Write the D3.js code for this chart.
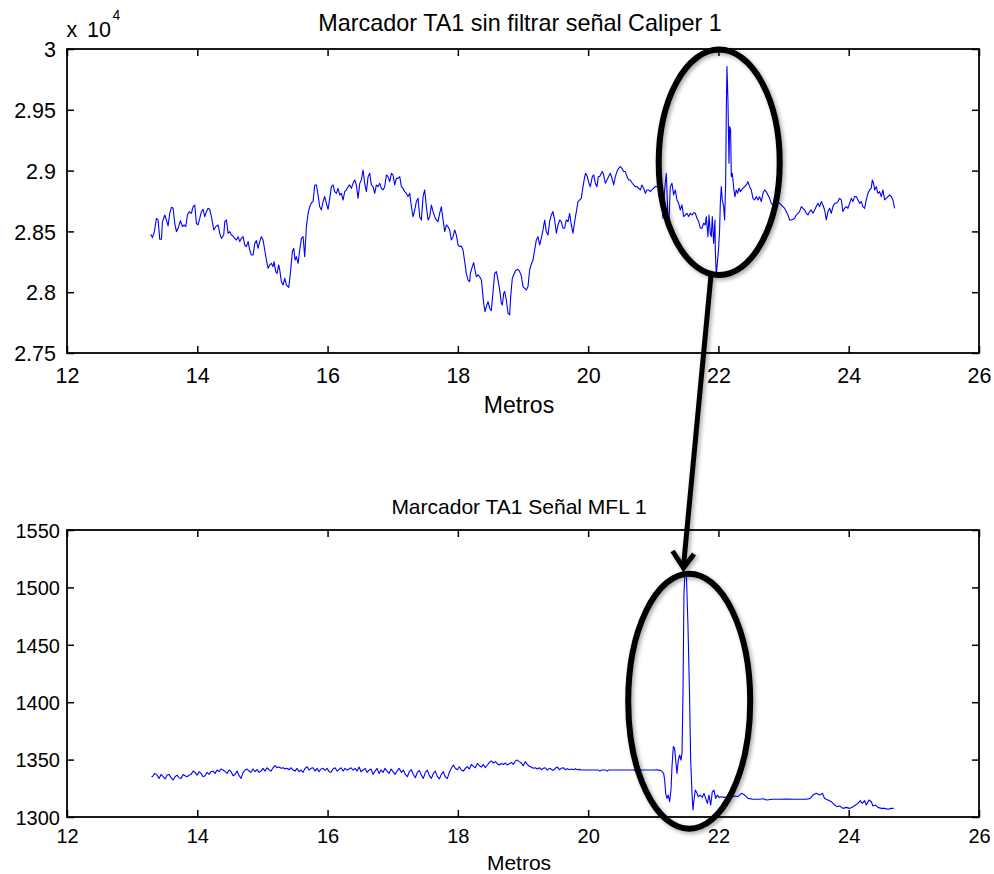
<!DOCTYPE html>
<html><head><meta charset="utf-8">
<script src="https://cdn.jsdelivr.net/npm/d3@7"></script>
<style>
body{margin:0;background:#fff}
svg{display:block}
text{font-family:"Liberation Sans",Arial,Helvetica,sans-serif;fill:#000}
</style>
</head><body>
<svg id="c" width="994" height="874"></svg>
<script>
// ---------- data ----------
const xTicks = [12,14,16,18,20,22,24,26];
const caliperTicks = [27500,28000,28500,29000,29500,30000];
const mflTicks = [1300,1350,1400,1450,1500,1550];
const titles = ["Marcador TA1 sin filtrar señal Caliper 1","Marcador TA1 Señal MFL 1"];
const xLabel = "Metros";
const exponentLabel = ["x","10","4"];

// Caliper 1 signal [metros, value]
const caliper = [
[13.286,28476],[13.311,28449],[13.342,28498],[13.373,28608],[13.398,28594],[13.424,28435],[13.450,28435],[13.465,28580],[13.501,28635],[13.526,28594],[13.552,28545],[13.577,28649],[13.603,28698],[13.629,28690],[13.654,28566],[13.680,28498],[13.705,28525],[13.741,28588],[13.772,28539],[13.797,28553],[13.823,28539],[13.849,28635],[13.874,28662],[13.910,28649],[13.936,28703],[13.961,28717],[13.987,28566],[14.012,28553],[14.038,28608],[14.063,28662],[14.089,28682],[14.115,28621],[14.140,28662],[14.166,28690],[14.191,28682],[14.217,28621],[14.253,28512],[14.283,28539],[14.319,28553],[14.345,28484],[14.370,28443],[14.406,28470],[14.422,28580],[14.447,28594],[14.473,28484],[14.498,28498],[14.524,28470],[14.549,28462],[14.575,28443],[14.601,28429],[14.626,28457],[14.652,28416],[14.677,28443],[14.703,28457],[14.729,28388],[14.754,28375],[14.780,28416],[14.805,28347],[14.831,28306],[14.857,28306],[14.882,28402],[14.908,28424],[14.933,28361],[14.959,28416],[14.984,28457],[15.010,28429],[15.036,28347],[15.061,28265],[15.087,28196],[15.112,28224],[15.138,28237],[15.163,28210],[15.179,28251],[15.204,28169],[15.225,28155],[15.250,28224],[15.266,28183],[15.291,28087],[15.317,28059],[15.343,28114],[15.368,28059],[15.404,28040],[15.429,28155],[15.460,28334],[15.481,28361],[15.501,28265],[15.521,28292],[15.547,28237],[15.573,28347],[15.598,28443],[15.624,28457],[15.649,28292],[15.675,28539],[15.701,28649],[15.726,28703],[15.752,28736],[15.777,28745],[15.803,28882],[15.829,28882],[15.854,28799],[15.880,28703],[15.905,28676],[15.931,28745],[15.956,28786],[15.982,28731],[16.008,28682],[16.033,28772],[16.059,28868],[16.084,28882],[16.110,28827],[16.135,28813],[16.161,28854],[16.187,28799],[16.212,28813],[16.238,28758],[16.263,28827],[16.289,28841],[16.315,28868],[16.340,28882],[16.366,28854],[16.391,28895],[16.417,28923],[16.442,28882],[16.468,28772],[16.494,28895],[16.519,28923],[16.545,29005],[16.570,28895],[16.596,28827],[16.622,28950],[16.647,28978],[16.673,28882],[16.698,28868],[16.724,28813],[16.749,28882],[16.775,28868],[16.801,28895],[16.826,28854],[16.852,28841],[16.877,28868],[16.903,28964],[16.928,28950],[16.954,28909],[16.980,28978],[17.005,28964],[17.031,28882],[17.056,28936],[17.082,28936],[17.108,28950],[17.133,28868],[17.159,28854],[17.184,28827],[17.210,28813],[17.235,28786],[17.261,28813],[17.287,28703],[17.312,28621],[17.338,28676],[17.363,28745],[17.389,28772],[17.414,28621],[17.440,28594],[17.466,28786],[17.491,28841],[17.517,28703],[17.542,28594],[17.568,28621],[17.594,28717],[17.619,28662],[17.645,28621],[17.670,28594],[17.696,28580],[17.721,28649],[17.747,28703],[17.773,28594],[17.798,28498],[17.824,28553],[17.849,28539],[17.875,28512],[17.900,28429],[17.926,28457],[17.952,28512],[17.977,28470],[18.003,28388],[18.028,28375],[18.054,28380],[18.079,28347],[18.105,28251],[18.130,28155],[18.156,28100],[18.182,28087],
[18.192,28156],[18.222,28210],[18.243,28243],[18.258,28197],[18.284,28128],[18.309,28142],[18.335,28128],[18.361,28101],[18.376,28019],[18.396,27909],[18.417,27840],[18.437,27882],[18.463,27923],[18.488,27868],[18.514,27849],[18.540,28005],[18.565,28156],[18.591,28169],[18.616,28101],[18.642,28019],[18.667,27909],[18.683,27895],[18.703,27991],[18.719,28005],[18.744,27936],[18.770,27827],[18.795,27813],[18.811,27964],[18.836,28115],[18.857,28142],[18.887,28178],[18.923,28189],[18.949,28169],[18.974,28134],[19.000,28046],[19.026,28032],[19.051,28019],[19.077,28046],[19.102,28183],[19.128,28232],[19.154,28265],[19.179,28348],[19.205,28430],[19.230,28457],[19.256,28389],[19.281,28443],[19.307,28512],[19.333,28594],[19.358,28498],[19.384,28471],[19.409,28581],[19.435,28635],[19.460,28663],[19.486,28594],[19.512,28485],[19.537,28553],[19.563,28594],[19.588,28581],[19.614,28526],[19.639,28526],[19.665,28594],[19.691,28581],[19.716,28649],[19.742,28553],[19.767,28485],[19.793,28581],[19.819,28663],[19.844,28745],[19.870,28759],[19.895,28772],[19.921,28868],[19.947,28951],[19.962,28978],[19.987,28951],[20.013,28896],[20.033,28868],[20.064,28951],[20.085,28964],[20.110,28896],[20.136,28868],[20.156,28951],[20.177,28951],[20.202,28978],[20.218,28992],[20.238,28964],[20.264,28896],[20.289,28923],[20.315,28951],[20.340,28978],[20.366,28937],[20.392,28882],[20.417,28951],[20.443,28992],[20.468,29019],[20.494,29033],[20.519,29019],[20.545,28992],[20.571,28992],[20.596,28951],[20.622,28923],[20.647,28923],[20.678,28896],[20.699,28882],[20.724,28868],[20.750,28868],[20.775,28855],[20.801,28841],[20.826,28882],[20.852,28855],[20.878,28813],[20.903,28841],[20.929,28841],[20.954,28827],[20.980,28841],[21.005,28855],[21.031,28868],[21.057,28868],[21.097,28896],[21.123,28813],[21.149,28608],[21.174,28841],[21.200,28978],[21.225,28622],[21.241,28581],[21.261,28868],[21.287,28896],[21.312,28800],[21.338,28841],[21.364,28759],[21.389,28731],[21.415,28676],[21.440,28718],[21.466,28622],[21.492,28635],[21.517,28649],[21.543,28622],[21.568,28649],[21.594,28635],[21.620,28655],[21.645,28649],[21.671,28608],[21.696,28581],[21.722,28526],[21.747,28526],[21.773,28567],[21.798,28553],[21.814,28622],[21.839,28457],[21.855,28635],[21.875,28485],[21.890,28457],[21.906,28622],[21.926,28402],[21.947,28594],
[21.952,28347],[21.967,28142],[21.983,28238],[22.003,28361],[22.018,28512],[22.029,28731],[22.044,28868],[22.059,28759],[22.080,28704],[22.095,28594],[22.111,28896],[22.121,29499],[22.131,29855],[22.146,29581],[22.162,29060],[22.172,29362],[22.187,29334],[22.198,28950],[22.213,28978],[22.223,28923],[22.238,28841],[22.254,28786],[22.274,28841],[22.295,28813],[22.315,28855],[22.336,28827],[22.356,28841],[22.377,28855],[22.402,28868],[22.428,28882],[22.453,28909],[22.479,28868],[22.504,28841],[22.530,28772],[22.556,28759],[22.581,28786],[22.607,28759],[22.632,28786],[22.658,28745],[22.684,28813],[22.709,28841],[22.735,28827],[22.760,28800],[22.786,28772],[22.811,28731],[22.837,28717],[22.863,28731],[22.888,28745],[22.914,28745],[22.939,28731],[22.965,28717],[22.991,28704],[23.016,28690],[23.042,28663],[23.067,28635],[23.093,28594],[23.118,28594],[23.144,28600],[23.170,28608],[23.195,28635],[23.221,28649],[23.246,28663],[23.272,28704],[23.298,28690],[23.323,28676],[23.349,28649],[23.374,28635],[23.400,28663],[23.425,28676],[23.451,28649],[23.477,28676],[23.502,28704],[23.528,28731],[23.553,28704],[23.579,28745],[23.604,28717],[23.630,28676],[23.656,28594],[23.681,28663],[23.707,28690],[23.732,28649],[23.758,28704],[23.784,28731],[23.809,28731],[23.835,28745],[23.860,28772],[23.886,28759],[23.911,28663],[23.937,28690],[23.963,28704],[23.988,28690],[24.014,28731],[24.039,28772],[24.065,28745],[24.090,28786],[24.116,28786],[24.142,28759],[24.167,28731],[24.193,28745],[24.218,28704],[24.244,28690],[24.270,28759],[24.295,28813],[24.321,28841],[24.346,28855],[24.362,28923],[24.382,28896],[24.397,28841],[24.423,28868],[24.449,28813],[24.474,28827],[24.500,28786],[24.525,28841],[24.551,28759],[24.576,28772],[24.602,28786],[24.628,28800],[24.653,28786],[24.679,28759],[24.694,28717],[24.704,28690]
];

// MFL 1 signal [metros, value]
const mfl = [
[13.297,1335.5],[13.311,1335.1],[13.347,1338.0],[13.383,1336.5],[13.414,1333.6],[13.444,1337.1],[13.475,1335.1],[13.506,1333.1],[13.537,1336.5],[13.567,1337.1],[13.598,1334.2],[13.629,1332.2],[13.659,1335.1],[13.690,1336.5],[13.721,1334.2],[13.751,1333.6],[13.782,1337.1],[13.813,1336.0],[13.843,1335.1],[13.874,1336.5],[13.905,1337.1],[13.936,1340.0],[13.966,1338.9],[13.997,1336.5],[14.028,1339.5],[14.058,1338.0],[14.089,1335.1],[14.120,1336.0],[14.150,1338.9],[14.181,1337.1],[14.212,1339.5],[14.242,1340.0],[14.273,1338.0],[14.304,1340.9],[14.335,1339.5],[14.365,1341.8],[14.396,1340.9],[14.427,1339.5],[14.457,1338.0],[14.488,1340.9],[14.519,1339.5],[14.549,1336.0],[14.580,1337.1],[14.611,1340.0],[14.642,1336.0],[14.672,1333.6],[14.703,1338.9],[14.734,1340.9],[14.764,1341.8],[14.795,1340.0],[14.826,1338.9],[14.856,1341.8],[14.887,1339.5],[14.918,1341.2],[14.949,1338.9],[14.979,1340.0],[15.010,1342.4],[15.041,1340.0],[15.071,1342.9],[15.102,1341.2],[15.133,1340.0],[15.163,1342.9],[15.194,1344.7],[15.225,1342.9],[15.255,1343.5],[15.286,1342.4],[15.317,1342.9],[15.348,1341.8],[15.378,1342.4],[15.409,1341.2],[15.440,1342.9],[15.470,1340.9],[15.501,1340.0],[15.532,1342.4],[15.562,1339.5],[15.593,1340.9],[15.624,1338.9],[15.655,1342.4],[15.685,1343.8],[15.716,1340.9],[15.747,1342.4],[15.777,1342.9],[15.808,1340.0],[15.839,1342.4],[15.869,1339.5],[15.900,1341.8],[15.931,1342.4],[15.961,1340.6],[15.992,1342.4],[16.023,1339.5],[16.054,1338.9],[16.084,1341.8],[16.115,1342.9],[16.146,1340.0],[16.176,1341.5],[16.207,1342.9],[16.238,1340.0],[16.268,1342.4],[16.299,1340.9],[16.330,1341.8],[16.360,1342.9],[16.391,1340.9],[16.422,1342.4],[16.453,1340.0],[16.483,1343.5],[16.514,1339.5],[16.545,1340.9],[16.575,1342.4],[16.606,1338.9],[16.637,1340.9],[16.667,1341.8],[16.698,1337.1],[16.729,1340.0],[16.760,1342.4],[16.790,1338.0],[16.821,1340.9],[16.852,1338.9],[16.882,1342.4],[16.913,1340.0],[16.944,1338.0],[16.974,1341.8],[17.005,1339.5],[17.036,1337.1],[17.067,1340.0],[17.097,1342.4],
[17.133,1338.9],[17.163,1340.9],[17.194,1337.1],[17.225,1335.1],[17.255,1339.5],[17.286,1341.2],[17.317,1337.1],[17.347,1334.2],[17.378,1338.9],[17.409,1340.6],[17.440,1336.5],[17.470,1333.6],[17.501,1338.9],[17.532,1340.9],[17.562,1336.0],[17.593,1333.6],[17.624,1338.0],[17.654,1340.0],[17.685,1335.4],[17.716,1333.1],[17.746,1337.1],[17.777,1339.5],[17.808,1334.8],[17.839,1333.6],[17.869,1338.9],[17.900,1342.4],[17.931,1345.3],[17.961,1342.4],[17.992,1341.2],[18.023,1343.8],[18.053,1340.9],[18.084,1340.0],[18.115,1342.4],[18.146,1343.8],[18.176,1341.8],[18.207,1345.8],[18.238,1344.1],[18.268,1342.9],[18.299,1346.7],[18.330,1344.7],[18.360,1343.5],[18.391,1345.8],[18.422,1342.9],[18.453,1345.3],[18.483,1347.6],[18.514,1348.8],[18.545,1347.0],[18.575,1348.2],[18.606,1346.4],[18.637,1345.3],[18.667,1346.7],[18.698,1345.8],[18.729,1347.0],[18.759,1345.3],[18.790,1346.4],[18.821,1347.6],[18.852,1345.8],[18.882,1348.8],[18.913,1349.6],[18.944,1348.2],[18.974,1347.0],[19.005,1344.7],[19.036,1348.2],[19.066,1345.8],[19.097,1344.1],[19.128,1343.5],[19.159,1342.4],[19.189,1342.9],[19.220,1341.8],[19.251,1342.9],[19.281,1341.2],[19.312,1342.4],[19.343,1342.9],[19.373,1340.9],[19.404,1342.4],[19.435,1341.5],[19.465,1340.6],[19.496,1342.4],[19.527,1343.5],[19.558,1341.2],[19.588,1342.4],[19.619,1342.9],[19.650,1341.2],[19.680,1342.1],[19.711,1341.2],[19.742,1341.8],[19.772,1341.2],[19.803,1342.1],[19.834,1341.2],[19.864,1341.5],[19.895,1340.9],
[19.950,1340.9],[20.160,1340.9],[20.180,1339.9],[20.200,1340.9],[20.270,1340.9],[20.290,1339.9],[20.310,1340.9],[20.700,1340.9],[20.720,1340.3],[20.740,1340.9],[21.020,1340.9],[21.050,1341.2],[21.100,1340.6],[21.124,1340.3],
[21.159,1338.0],[21.175,1332.2],[21.190,1320.6],[21.210,1316.2],[21.230,1319.1],[21.251,1313.3],[21.272,1323.5],[21.287,1343.8],[21.308,1361.3],[21.328,1359.8],[21.344,1349.6],[21.364,1338.0],[21.384,1349.6],[21.405,1354.0],[21.425,1349.6],[21.441,1355.4],[21.456,1407.7],[21.471,1494.8],[21.487,1513.7],[21.507,1513.7],[21.533,1465.8],[21.558,1401.9],[21.574,1349.6],[21.594,1320.6],[21.610,1306.1],[21.625,1314.8],[21.645,1323.5],[21.671,1320.6],[21.691,1317.7],[21.722,1319.1],[21.753,1317.1],[21.778,1320.6],[21.804,1316.2],[21.830,1311.9],[21.855,1319.1],[21.881,1310.4],[21.906,1322.0],[21.932,1323.5],[21.957,1316.2],[21.983,1319.1],[22.009,1317.1],[22.044,1317.7],[22.096,1317.1],[22.147,1317.7],[22.198,1317.1],[22.249,1318.3],[22.300,1317.7],[22.351,1320.6],[22.403,1319.1],[22.454,1316.2],[22.530,1315.4],[22.633,1315.4],[22.694,1315.9],[22.735,1314.8],[22.837,1315.4],[22.940,1315.4],[23.042,1315.6],[23.144,1315.4],[23.247,1315.4],[23.349,1315.4],[23.410,1316.2],[23.451,1319.1],[23.502,1320.6],[23.553,1319.1],[23.595,1320.6],[23.630,1316.2],[23.681,1314.8],[23.733,1313.3],[23.784,1310.4],[23.820,1309.0],[23.861,1309.6],[23.912,1307.5],[23.963,1308.4],[24.014,1307.5],[24.065,1309.0],[24.106,1310.4],[24.142,1311.9],[24.178,1314.2],[24.209,1311.9],[24.244,1314.2],[24.270,1310.4],[24.311,1314.8],[24.347,1313.3],[24.372,1309.6],[24.413,1310.4],[24.449,1308.4],[24.500,1307.5],[24.551,1307.5],[24.602,1306.7],[24.654,1307.5],[24.690,1307.5]
];

// ---------- drawing ----------
const svg = d3.select("#c");
svg.append("rect").attr("width",994).attr("height",874).attr("fill","#fff");
const L = 67, R = 979;
const x = d3.scaleLinear().domain([12,26]).range([L,R]);

const defs = svg.append("defs");
const f = defs.append("filter").attr("id","sh").attr("x","-20%").attr("y","-20%").attr("width","140%").attr("height","140%");
f.append("feDropShadow").attr("dx",2).attr("dy",2).attr("stdDeviation",2).attr("flood-color","#000").attr("flood-opacity",0.35);

function panel(cfg){
  const y = d3.scaleLinear().domain(cfg.domain).range([cfg.bottom,cfg.top]);
  const g = svg.append("g");
  g.append("path").datum(cfg.data)
    .attr("d", d3.line().x(d=>x(d[0])).y(d=>y(d[1])))
    .attr("fill","none").attr("stroke","#0000ff").attr("stroke-width",1.1)
    .attr("stroke-linejoin","round");
  const tl = 7;
  const ab = g.append("g").attr("transform",`translate(0,${cfg.bottom})`)
    .call(d3.axisBottom(x).tickValues(xTicks).tickSize(-tl).tickSizeOuter(0).tickPadding(cfg.xPad).tickFormat(d3.format("d")));
  const at = g.append("g").attr("transform",`translate(0,${cfg.top})`)
    .call(d3.axisTop(x).tickValues(xTicks).tickSize(-tl).tickSizeOuter(0).tickFormat(""));
  const al = g.append("g").attr("transform",`translate(${L},0)`)
    .call(d3.axisLeft(y).tickValues(cfg.ticks).tickSize(-tl).tickSizeOuter(0).tickPadding(cfg.yPad).tickFormat(cfg.fmt));
  const ar = g.append("g").attr("transform",`translate(${R},0)`)
    .call(d3.axisRight(y).tickValues(cfg.ticks).tickSize(-tl).tickSizeOuter(0).tickFormat(""));
  [ab,at,al,ar].forEach(a=>{
    a.select(".domain").remove();
    a.selectAll("line").attr("stroke","#000").attr("stroke-width",1.5);
    a.attr("font-family",null).attr("font-size",null);
    a.selectAll("text").style("font-size",cfg.tickFont+"px").attr("fill","#000");
  });
  al.selectAll("text").attr("dy","0.36em");
  g.append("rect").attr("x",L).attr("y",cfg.top).attr("width",R-L).attr("height",cfg.bottom-cfg.top)
    .attr("fill","none").attr("stroke","#000").attr("stroke-width",1.8);
  g.append("text").attr("x",cfg.titleX).attr("y",cfg.titleY).attr("text-anchor","middle")
    .style("font-size",cfg.titleFont+"px").text(cfg.title);
  g.append("text").attr("x",519).attr("y",cfg.xlabY).attr("text-anchor","middle")
    .style("font-size",cfg.xlabFont+"px").text(xLabel);
  return y;
}

panel({domain:[27500,30000], top:49, bottom:353, data:caliper, ticks:caliperTicks,
  fmt:d=>d3.format("")(d/10000), xPad:14.5, yPad:11, tickFont:21.5,
  title:titles[0], titleX:520, titleY:30.7, titleFont:23.4, xlabY:413.3, xlabFont:23});
panel({domain:[1300,1550], top:530, bottom:817, data:mfl, ticks:mflTicks,
  fmt:d3.format("d"), xPad:11.5, yPad:7, tickFont:20,
  title:titles[1], titleX:519, titleY:514, titleFont:21, xlabY:870, xlabFont:21});

// exponent label "x 10^4"
svg.append("text").attr("x",66.5).attr("y",37.3).style("font-size","21.5px").text(exponentLabel[0]);
svg.append("text").attr("x",87).attr("y",37.3).style("font-size","21.5px").text(exponentLabel[1]);
svg.append("text").attr("x",112.5).attr("y",20).style("font-size","14px").text(exponentLabel[2]);

// annotations: ellipses and arrow
const ann = svg.append("g").attr("filter","url(#sh)").attr("fill","none").attr("stroke","#000");
ann.append("ellipse").attr("cx",719.2).attr("cy",162.3).attr("rx",60.5).attr("ry",112.7).attr("stroke-width",6);
ann.append("ellipse").attr("cx",689.2).attr("cy",701.2).attr("rx",61).attr("ry",127.5).attr("stroke-width",6);
ann.append("line").attr("x1",711).attr("y1",275).attr("x2",683.5).attr("y2",566).attr("stroke-width",5);
ann.append("polyline").attr("points","672.5,551 683.5,568 694,554").attr("stroke-width",5)
  .attr("stroke-linejoin","miter").attr("stroke-miterlimit",10);
</script>
</body></html>
